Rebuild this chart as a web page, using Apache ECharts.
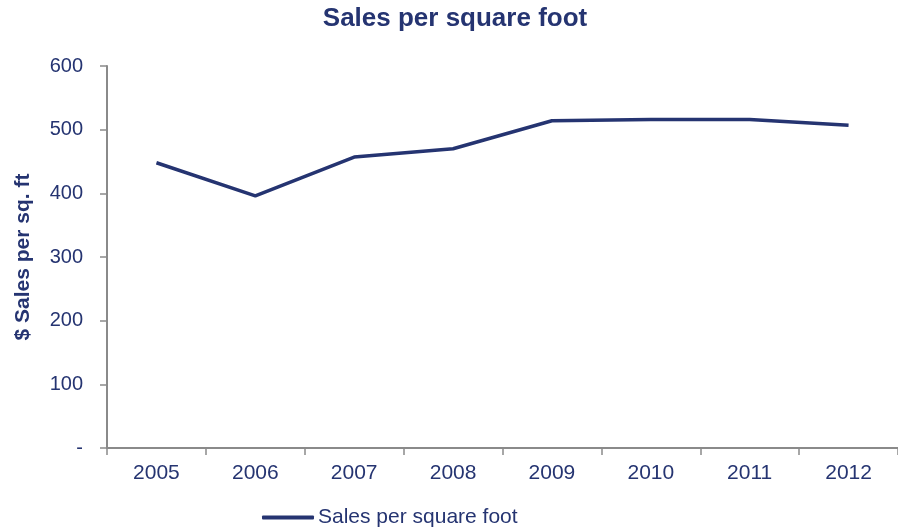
<!DOCTYPE html>
<html>
<head>
<meta charset="utf-8">
<script src="https://cdn.jsdelivr.net/npm/echarts@6/dist/echarts.min.js"></script>
<style>html,body{margin:0;padding:0;background:#fff;}#c{width:898px;height:529px;}</style>
</head>
<body>
<div id="c"></div>
<script>
const categories = ['2005','2006','2007','2008','2009','2010','2011','2012'];
const salesPerSqFt = [448, 396, 457, 470, 514, 516, 516, 507];
const yTicks = [0, 100, 200, 300, 400, 500, 600];
const seriesName = 'Sales per square foot';
const titleText = 'Sales per square foot';
const yAxisTitle = '$ Sales per sq. ft';

const navy = '#253471';
const gray = '#8a8a8a';
const font = '"Liberation Sans", Arial, sans-serif';

const chart = echarts.init(document.getElementById('c'), null, {renderer: 'canvas'});
chart.setOption({
  animation: false,
  backgroundColor: '#fff',
  title: {
    text: titleText,
    left: 455,
    textAlign: 'center',
    top: 6,
    padding: 0,
    textStyle: {color: navy, fontFamily: font, fontWeight: 'bold', fontSize: 26}
  },
  grid: {left: 107, top: 66, width: 800, height: 382, containLabel: false},
  legend: {
    data: [{name: seriesName, icon: 'roundRect'}],
    left: 262,
    top: 507,
    padding: 0,
    itemWidth: 52,
    itemHeight: 4,
    itemGap: 10,
    textStyle: {color: navy, fontFamily: font, fontSize: 21, padding: [0, 0, 0, -1]}
  },
  xAxis: {
    type: 'category',
    data: categories,
    boundaryGap: true,
    axisLine: {lineStyle: {color: gray, width: 2}},
    axisTick: {show: true, length: 7, lineStyle: {color: gray, width: 1.5}},
    axisLabel: {color: navy, fontFamily: font, fontSize: 21, margin: 15},
    splitLine: {show: false}
  },
  yAxis: {
    type: 'value',
    min: yTicks[0],
    max: yTicks[yTicks.length - 1],
    interval: 100,
    name: yAxisTitle,
    nameLocation: 'middle',
    nameGap: 73,
    nameTextStyle: {color: navy, fontFamily: font, fontWeight: 'bold', fontSize: 21},
    axisLine: {show: true, lineStyle: {color: gray, width: 2}},
    axisTick: {show: true, length: 7, lineStyle: {color: gray, width: 1.5}},
    axisLabel: {
      color: navy, fontFamily: font, fontSize: 20, margin: 24,
      formatter: v => v === 0 ? '-' : String(v)
    },
    splitLine: {show: false}
  },
  series: [{
    name: seriesName,
    type: 'line',
    data: salesPerSqFt,
    symbol: 'none',
    lineStyle: {color: navy, width: 3.5},
    itemStyle: {color: navy}
  }]
});
</script>
</body>
</html>
